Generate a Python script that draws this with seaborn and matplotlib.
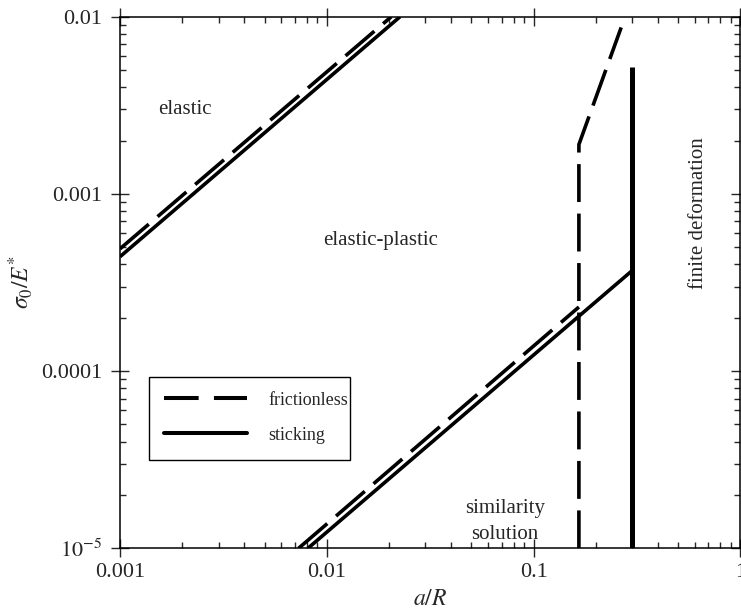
import matplotlib
matplotlib.use("Agg")
import matplotlib.pyplot as plt
from matplotlib.patches import Rectangle
import seaborn as sns
import pandas as pd

# Regime boundaries (a/R vs sigma_0/E*)
elastic_frictionless_x = [0.001, 0.0205]
elastic_frictionless_y = [4.9e-4, 0.01]
elastic_sticking_x = [0.001, 0.0226]
elastic_sticking_y = [4.42e-4, 0.01]

similarity_frictionless_x = [0.0073, 0.1655]
similarity_frictionless_y = [1.0e-5, 2.3e-4]
similarity_sticking_x = [0.0081, 0.3]
similarity_sticking_y = [1.0e-5, 3.7e-4]

finite_frictionless_x = [0.1655, 0.1655, 0.265]
finite_frictionless_y = [1.0e-5, 0.0019, 0.0087]
finite_sticking_x = [0.3, 0.3]
finite_sticking_y = [1.0e-5, 0.0052]

x_ticks = [0.001, 0.01, 0.1, 1]
x_tick_labels = ["0.001", "0.01", "0.1", "1"]
y_ticks = [1e-5, 1e-4, 1e-3, 1e-2]
y_tick_labels = [r"$10^{-5}$", "0.0001", "0.001", "0.01"]

sns.set_style("ticks")
plt.rcParams["font.family"] = ["Liberation Serif", "DejaVu Serif"]
plt.rcParams["mathtext.fontset"] = "stix"

fig = plt.figure(figsize=(7.41, 6.10), dpi=100)
ax = fig.add_axes([0.1619, 0.1011, 0.8374, 0.8715])

lw = 2.6
dashes = (10.5, 3.2)


def draw(xs, ys, style, width):
    df = pd.DataFrame({"x": xs, "y": ys})
    sns.lineplot(data=df, x="x", y="y", ax=ax, sort=False, estimator=None,
                 color="black", linewidth=width)
    line = ax.lines[-1]
    if style == "dashed":
        line.set_dashes(dashes)
    line.set_solid_capstyle("butt")
    line.set_dash_capstyle("butt")
    return line


draw(elastic_frictionless_x, elastic_frictionless_y, "dashed", lw)
draw(elastic_sticking_x, elastic_sticking_y, "solid", lw)
draw(similarity_frictionless_x, similarity_frictionless_y, "dashed", lw)
draw(similarity_sticking_x, similarity_sticking_y, "solid", lw)
draw(finite_frictionless_x, finite_frictionless_y, "dashed", lw)
draw(finite_sticking_x, finite_sticking_y, "solid", 3.6)

ax.set_xscale("log")
ax.set_yscale("log")
ax.set_xlim(0.001, 1)
ax.set_ylim(1e-5, 0.01)
ax.set_xticks(x_ticks)
ax.set_xticklabels(x_tick_labels)
ax.set_yticks(y_ticks)
ax.set_yticklabels(y_tick_labels)

ax.tick_params(which="major", direction="inout", length=13.5, width=1.0,
               top=True, right=True, labelsize=16)
ax.tick_params(axis="y", which="major", pad=6)
ax.tick_params(axis="x", which="major", pad=4)
ax.tick_params(which="minor", direction="in", length=4, width=1.0,
               top=True, right=True)
for s in ax.spines.values():
    s.set_linewidth(1.1)
    s.set_color("black")

ax.set_xlabel(r"$a/R$", fontsize=17, labelpad=5)
ax.set_ylabel(r"$\sigma_0/E^{*}$", fontsize=17, labelpad=4)

ax.text(0.00206, 0.00298, "elastic", fontsize=15, ha="center", va="center")
ax.text(0.0181, 5.49e-4, "elastic-plastic", fontsize=15, ha="center", va="center")
ax.text(0.0728, 1.41e-5, "similarity\nsolution", fontsize=15, ha="center",
        va="center", linespacing=1.5)
ax.text(0.628, 7.78e-4, "finite deformation", fontsize=15, ha="center",
        va="center", rotation=90)

# legend with a tight square frame
leg_f = plt.Line2D([], [], color="black", linewidth=2.9, dashes=(8.6, 3.8))
leg_s = plt.Line2D([], [], color="black", linewidth=2.9)
ax.legend([leg_f, leg_s], ["frictionless", "sticking"], loc="upper left",
          bbox_to_anchor=(0.0472, 0.3217), fontsize=13, frameon=False,
          handlelength=4.6, handletextpad=1.2, labelspacing=1.0,
          borderpad=0.8, borderaxespad=0)
ax.add_patch(Rectangle((0.0472, 0.1661), 0.3235, 0.1556, transform=ax.transAxes,
                       fill=False, edgecolor="black", linewidth=1.0, zorder=5))

fig.savefig("out.png", dpi=100)
